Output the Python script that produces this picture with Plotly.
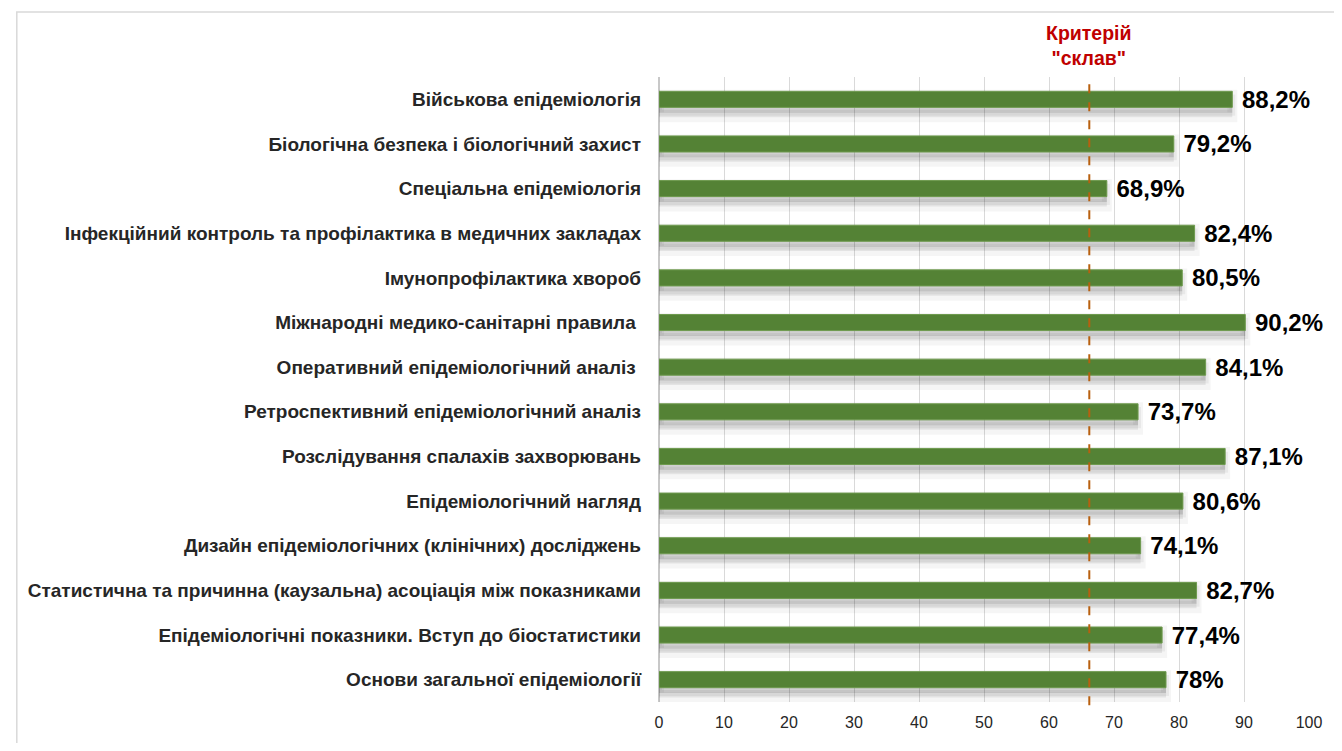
import plotly.graph_objects as go

categories = [
    "Військова епідеміологія",
    "Біологічна безпека і біологічний захист",
    "Спеціальна епідеміологія",
    "Інфекційний контроль та профілактика в медичних закладах",
    "Імунопрофілактика хвороб",
    "Міжнародні медико-санітарні правила ",
    "Оперативний епідеміологічний аналіз ",
    "Ретроспективний епідеміологічний аналіз",
    "Розслідування спалахів захворювань",
    "Епідеміологічний нагляд",
    "Дизайн епідеміологічних (клінічних) досліджень",
    "Статистична та причинна (каузальна) асоціація між показниками",
    "Епідеміологічні показники. Вступ до біостатистики",
    "Основи загальної епідеміології",
]
values = [88.2, 79.2, 68.9, 82.4, 80.5, 90.2, 84.1, 73.7, 87.1, 80.6, 74.1, 82.7, 77.4, 78.0]
value_labels = ["88,2%", "79,2%", "68,9%", "82,4%", "80,5%", "90,2%", "84,1%",
                "73,7%", "87,1%", "80,6%", "74,1%", "82,7%", "77,4%", "78%"]
criterion = 66.2
criterion_label = "Критерій<br>\"склав\""
x_ticks = list(range(0, 101, 10))

FONT = "Liberation Sans, Arial"

fig = go.Figure()
# soft shadow under each bar (two layers for a blurred look)
fig.add_trace(go.Bar(
    x=values, y=categories, orientation="h",
    width=0.5, offset=-0.1,
    marker=dict(color="rgba(0,0,0,0.07)", line=dict(color="rgba(0,0,0,0.04)", width=10)),
    hoverinfo="skip",
))
fig.add_trace(go.Bar(
    x=values, y=categories, orientation="h",
    width=0.34, offset=-0.04,
    marker=dict(color="rgba(0,0,0,0.12)", line=dict(color="rgba(0,0,0,0.05)", width=6)),
    hoverinfo="skip",
))
fig.add_trace(go.Bar(
    x=values, y=categories, orientation="h",
    width=0.36, offset=-0.18,
    marker=dict(color="#548235", line=dict(color="#6E9A4E", width=1)),
    text=value_labels, texttemplate="\u00a0%{text}",
    textposition="outside", cliponaxis=False, constraintext="none",
    textfont=dict(family=FONT, size=24, color="#000000", weight="bold"),
    hoverinfo="skip",
))

fig.add_shape(type="line", xref="x", yref="paper", x0=criterion, x1=criterion, y0=-0.005, y1=1.0,
              line=dict(color="#B8600F", width=2, dash="dash"))
fig.add_annotation(x=criterion, xref="x", y=1.0, yref="paper", yanchor="bottom", yshift=6,
                   text=criterion_label, showarrow=False,
                   font=dict(family=FONT, size=19.5, color="#C00000", weight="bold"))
fig.add_shape(type="rect", xref="paper", yref="paper", x0=-0.988, x1=1.2, y0=-0.2, y1=1.104,
              line=dict(color="#D9D9D9", width=1.5), layer="below")

fig.update_layout(
    width=1326, height=735,
    margin=dict(l=651, r=16, t=69, b=40),
    paper_bgcolor="white", plot_bgcolor="white",
    barmode="overlay", showlegend=False,
    xaxis=dict(range=[0, 100], tickvals=x_ticks, showgrid=True, gridcolor="#D9D9D9",
               gridwidth=1, zeroline=True, zerolinecolor="#C8C8C8",
               tickfont=dict(family=FONT, size=16, color="#262626"),
               ticks="", showline=False, ticklabelstandoff=9),
    yaxis=dict(autorange="reversed", ticks="", showgrid=False, ticklabelstandoff=17,
               tickfont=dict(family=FONT, size=19, color="#262626", weight="bold")),
)

fig.write_html("out.html")
